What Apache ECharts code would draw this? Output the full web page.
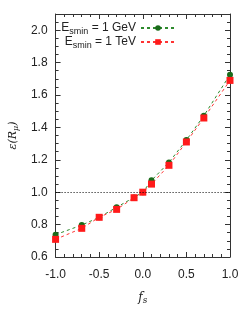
<!DOCTYPE html>
<html><head><meta charset="utf-8">
<script src="https://cdn.jsdelivr.net/npm/echarts@6/dist/echarts.min.js"></script>
<style>html,body{margin:0;padding:0;background:#fff}#c{width:249px;height:312px}</style>
</head><body><div id="c"></div>
<script>
const fs = [-1.0, -0.7, -0.5, -0.3, -0.1, 0.0, 0.1, 0.3, 0.5, 0.7, 1.0];
const gev = [0.738, 0.797, 0.845, 0.907, 0.968, 1.0, 1.073, 1.184, 1.322, 1.472, 1.725];
const tev = [0.709, 0.777, 0.845, 0.894, 0.966, 1.0, 1.050, 1.166, 1.310, 1.458, 1.690];
const seriesNames = ['GeV', 'TeV'];

const chart = echarts.init(document.getElementById('c'), null, {renderer: 'canvas'});
const font = 'Liberation Sans, Arial, sans-serif';
const serif = 'DejaVu Serif, Liberation Serif, serif';
const tickCol = '#333';
function pairs(ys){ return fs.map((x,i)=>[x, ys[i]]); }
const baseX = {type:'value', min:-1, max:1, interval:0.5,
  axisLine:{show:true, onZero:false, lineStyle:{color:tickCol, width:1}},
  axisTick:{show:true, inside:true, length:5, lineStyle:{color:tickCol}},
  minorTick:{show:true, splitNumber:5, length:3, lineStyle:{color:tickCol}},
  splitLine:{show:false}};
const baseY = {type:'value', min:0.6, max:2.1, interval:0.2,
  axisLine:{show:true, onZero:false, lineStyle:{color:tickCol, width:1}},
  axisTick:{show:true, inside:true, length:5, lineStyle:{color:tickCol}},
  minorTick:{show:true, splitNumber:4, length:3, lineStyle:{color:tickCol}},
  splitLine:{show:false}};
const legendText = {rich:{
  t:{fontFamily:font, fontSize:12, color:'#222', lineHeight:14},
  s:{fontFamily:font, fontSize:9, color:'#222', lineHeight:14, padding:[7,0,0,0]}}};
function mkLegend(name, top){
  return {show:true, right:68, top:top, orient:'vertical', itemWidth:34, itemHeight:7, itemGap:0,
    align:'right', data:[{name:name}], selectedMode:false,
    formatter:function(n){ return '{t|E}{s|smin}{t| = 1 '+n+'}'; },
    textStyle:legendText};
}
chart.setOption({
  animation:false,
  grid:{left:49, right:19, top:14, bottom:55, containLabel:false},
  legend:[mkLegend('GeV', 15), mkLegend('TeV', 29)],
  xAxis:[
    Object.assign({}, baseX, {position:'bottom',
      axisLabel:{fontFamily:font, fontSize:12, color:'#222', margin:12, formatter:v=>v.toFixed(1)},
      name:'{i|f}{s|s}', nameLocation:'middle', nameGap:33,
      nameTextStyle:{rich:{i:{fontFamily:serif, fontStyle:'italic', fontSize:12, color:'#222'},
        s:{fontFamily:serif, fontStyle:'italic', fontSize:9, color:'#222', padding:[6,0,0,0]}}}}),
    Object.assign({}, baseX, {position:'top', axisLabel:{show:false}})
  ],
  yAxis:[
    Object.assign({}, baseY, {position:'left',
      axisLabel:{fontFamily:font, fontSize:12, color:'#222', margin:8, showMaxLabel:false,
        formatter:v=>(v>2.05?'':v.toFixed(1))},
      name:'{i|ε(R}{s|μ}{i|)}', nameLocation:'middle', nameGap:32, nameRotate:90,
      nameTextStyle:{rich:{i:{fontFamily:serif, fontStyle:'italic', fontSize:11, color:'#222'},
        s:{fontFamily:serif, fontStyle:'italic', fontSize:8, color:'#222', padding:[5,0,0,0]}}}}),
    Object.assign({}, baseY, {position:'right', axisLabel:{show:false}})
  ],
  series:[
    {name:'GeV', type:'line', data:pairs(gev), symbol:'circle', symbolSize:6,
     itemStyle:{color:'#1a6b1a'}, lineStyle:{type:[3,3], width:1, color:'#2d8a2d'},
     markLine:{silent:true, symbol:'none', label:{show:false},
       lineStyle:{type:[1,2], color:'#000', width:1}, data:[{yAxis:1.0}]}},
    {name:'TeV', type:'line', data:pairs(tev), symbol:'rect', symbolSize:7,
     itemStyle:{color:'#ff1a1a'}, lineStyle:{type:[3,3], width:1, color:'#ff3333'}}
  ]
});
</script></body></html>
